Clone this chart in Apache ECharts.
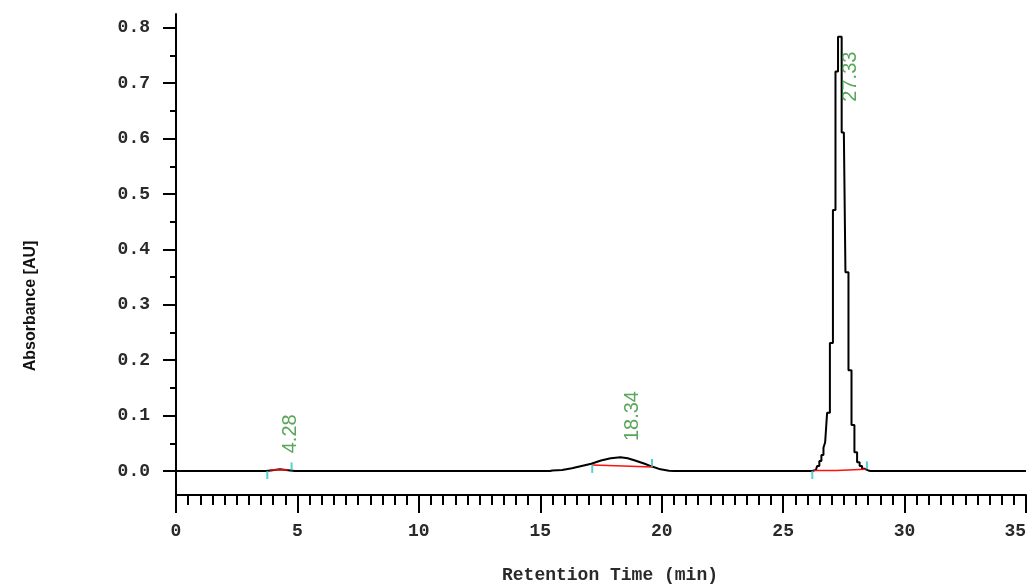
<!DOCTYPE html>
<html>
<head>
<meta charset="utf-8">
<script src="https://cdn.jsdelivr.net/npm/echarts@6/dist/echarts.min.js"></script>
<style>
  html, body { margin: 0; padding: 0; background: #fff; }
  #main { width: 1031px; height: 586px; }
</style>
</head>
<body>
<div id="main"></div>
<script>
// chromatogram trace (min, AU) - baseline and small peaks
const traceTime = [0, 3.7, 3.9, 4.28, 4.7, 4.9,
  15.4, 15.5, 15.9, 16.3, 16.7, 17.1, 17.5, 17.9, 18.3, 18.6, 18.9, 19.3, 19.6, 19.95, 20.3, 20.5, 26.2];
const traceAbs = [0, 0, 0.001, 0.003, 0.001, 0,
  0, 0.001, 0.002, 0.005, 0.009, 0.013, 0.019, 0.023, 0.025, 0.023, 0.019, 0.013, 0.008, 0.003, 0.0005, 0, 0];

// main peak, drawn stepped like the detector samples
const mainPeakTime = [26.2, 26.35, 26.45, 26.53, 26.62, 26.70, 26.76, 26.86, 26.99, 27.11, 27.20, 27.32,
  27.50, 27.63, 27.75, 27.88, 27.99, 28.10, 28.20, 28.30, 28.41, 28.6, 35];
const mainPeakAbs = [0, 0.002, 0.009, 0.018, 0.029, 0.042, 0.052, 0.105, 0.231, 0.471, 0.721, 0.784,
  0.611, 0.359, 0.182, 0.083, 0.034, 0.016, 0.009, 0.004, 0.001, 0, 0];

// integrated peaks
const peakTimes = [4.28, 18.34, 27.33];
const peakHeights = [0.003, 0.025, 0.784];
const peakNames = ['4.28', '18.34', '27.33'];

// peak start / end markers
const peakStarts = [[3.76, 0], [17.14, 0.011], [26.2, 0]];
const peakEnds = [[4.76, 0.001], [19.6, 0.007], [28.45, 0.003]];

// integration baselines
const baseline1 = [[3.85, 0.002], [4.6, 0.002]];
const baseline2 = [[17.14, 0.011], [18.42, 0.009], [18.45, 0.007], [19.6, 0.007]];
const baseline3 = [[26.25, 0.0008], [27.2, 0.0008], [27.25, 0.003], [28.4, 0.003]];

// y ticks
const yTickValues = [0, 0.1, 0.2, 0.3, 0.4, 0.5, 0.6, 0.7, 0.8];
const yMinorValues = [0.05, 0.15, 0.25, 0.35, 0.45, 0.55, 0.65, 0.75];

const tickFont = { fontFamily: 'Liberation Mono', fontWeight: 'bold', fontSize: 18, color: '#2a2a2a' };
const lineStyle = { color: '#000', width: 2 };

const chart = echarts.init(document.getElementById('main'));

chart.setOption({
  animation: false,
  backgroundColor: '#fff',
  grid: [
    { left: 176, right: 5, top: 14, bottom: 115 },
    { left: 176, right: 5, top: 471, bottom: 91 }
  ],
  xAxis: [
    { gridIndex: 0, type: 'value', min: 0, max: 35, show: false },
    {
      gridIndex: 1, type: 'value', min: 0, max: 35, interval: 5,
      name: 'Retention Time (min)', nameLocation: 'middle', nameGap: 71,
      nameTextStyle: Object.assign({}, tickFont, { padding: [0, 0, 0, 18] }),
      axisLine: { lineStyle: lineStyle },
      axisTick: { length: 18, lineStyle: lineStyle },
      minorTick: { show: true, splitNumber: 10, length: 10, lineStyle: lineStyle },
      axisLabel: Object.assign({ margin: 27, alignMaxLabel: 'right' }, tickFont),
      splitLine: { show: false }
    }
  ],
  yAxis: [
    {
      gridIndex: 0, type: 'value', min: 0, max: 0.825,
      name: 'Absorbance [AU]', nameLocation: 'middle', nameRotate: 90, nameGap: 137,
      nameTextStyle: { fontFamily: 'Liberation Sans', fontWeight: 'bold', fontSize: 16, color: '#111', padding: [0, 127, 0, 0] },
      axisLine: { show: true, lineStyle: lineStyle },
      axisTick: { show: true, length: 13, lineStyle: lineStyle, customValues: yTickValues },
      axisLabel: Object.assign({
        margin: 26,
        customValues: yTickValues,
        formatter: v => v.toFixed(1)
      }, tickFont),
      splitLine: { show: false }
    },
    {
      // minor ticks of the absorbance axis
      gridIndex: 0, type: 'value', min: 0, max: 0.825,
      position: 'left',
      axisLine: { show: false },
      axisTick: { show: true, length: 6, lineStyle: lineStyle, customValues: yMinorValues },
      axisLabel: { show: false },
      splitLine: { show: false }
    },
    {
      gridIndex: 1, type: 'value', min: 0, max: 1,
      axisLine: { show: true, lineStyle: lineStyle },
      axisTick: { show: false },
      axisLabel: { show: false },
      splitLine: { show: false }
    }
  ],
  series: [
    {
      type: 'line',
      xAxisIndex: 0, yAxisIndex: 0,
      data: traceTime.map((t, i) => [t, traceAbs[i]]),
      showSymbol: false,
      clip: false,
      lineStyle: lineStyle,
      z: 2
    },
    {
      type: 'line',
      xAxisIndex: 0, yAxisIndex: 0,
      data: mainPeakTime.map((t, i) => [t, mainPeakAbs[i]]),
      step: 'middle',
      showSymbol: false,
      clip: false,
      lineStyle: lineStyle,
      z: 2
    },
    ...[baseline1, baseline2, baseline3].map(seg => ({
      type: 'line',
      xAxisIndex: 0, yAxisIndex: 0,
      data: seg,
      showSymbol: false,
      clip: false,
      lineStyle: { color: '#ff1010', width: 1.5 },
      z: 3
    })),
    {
      type: 'scatter',
      xAxisIndex: 0, yAxisIndex: 0,
      data: peakStarts,
      symbol: 'rect',
      symbolSize: [2, 8],
      symbolOffset: [0, 4],
      itemStyle: { color: '#2cc3cc' },
      z: 4
    },
    {
      type: 'scatter',
      xAxisIndex: 0, yAxisIndex: 0,
      data: peakEnds,
      symbol: 'rect',
      symbolSize: [2, 8],
      symbolOffset: [0, -4],
      itemStyle: { color: '#2cc3cc' },
      z: 4
    },
    {
      type: 'scatter',
      xAxisIndex: 0, yAxisIndex: 0,
      symbolSize: 0.1,
      itemStyle: { color: 'rgba(0,0,0,0)' },
      label: {
        show: true,
        position: [11, -16],
        rotate: 90,
        align: 'left',
        verticalAlign: 'middle',
        fontFamily: 'Liberation Sans',
        fontSize: 20,
        color: '#2f8f2f',
        formatter: p => p.name
      },
      data: peakTimes.map((t, i) => ({
        name: peakNames[i],
        value: [t, peakHeights[i]],
        label: i === 2 ? { position: [11, 65] } : undefined
      })),
      z: 5
    }
  ]
});
</script>
</body>
</html>
